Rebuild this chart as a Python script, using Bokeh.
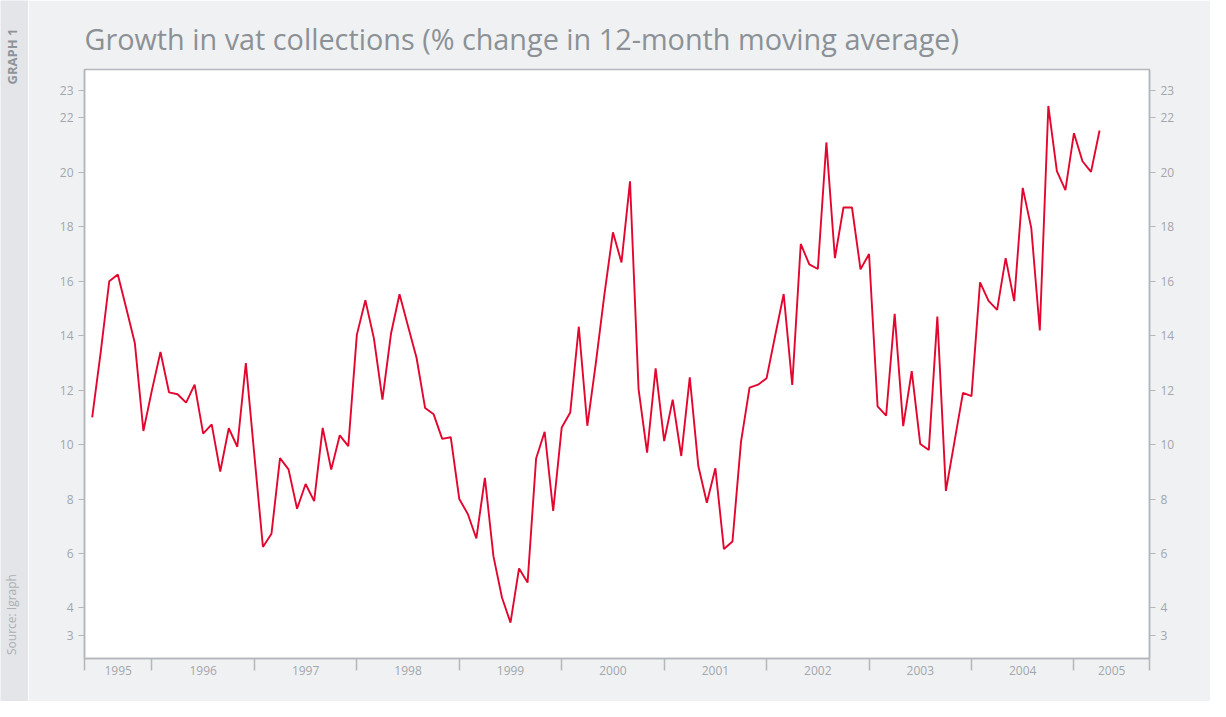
import math
from bokeh.plotting import figure
from bokeh.models import Range1d, LinearAxis, FixedTicker, CustomJSTickFormatter, Label
from bokeh.layouts import row
from bokeh.embed import file_html
from bokeh.resources import INLINE

# ---------------- data ----------------
title_text = "Growth in vat collections (% change in 12-month moving average)"
start_year = 1995
start_month = 6          # first observation: June 1995 (monthly series)
growth = [
    11.0, 13.4, 16.0, 16.25, 15.0, 13.72, 10.5,                       # 1995 Jun-Dec
    12.0, 13.4, 11.92, 11.85, 11.54, 12.2, 10.4, 10.74, 9.01, 10.6, 9.92, 12.99,   # 1996
    9.6, 6.24, 6.72, 9.5, 9.09, 7.64, 8.55, 7.92, 10.61, 9.08, 10.34, 9.94,        # 1997
    14.03, 15.3, 13.9, 11.65, 14.07, 15.52, 14.35, 13.18, 11.34, 11.11, 10.21, 10.27,  # 1998
    8.0, 7.45, 6.55, 8.78, 5.9, 4.38, 3.46, 5.45, 4.93, 9.49, 10.47, 7.56,          # 1999
    10.63, 11.18, 14.33, 10.69, 13.0, 15.52, 17.8, 16.69, 19.67, 12.04, 9.7, 12.8,  # 2000
    10.13, 11.65, 9.58, 12.47, 9.21, 7.86, 9.13, 6.16, 6.44, 10.1, 12.09, 12.2,     # 2001
    12.44, 14.0, 15.53, 12.19, 17.37, 16.62, 16.45, 21.1, 16.85, 18.71, 18.71, 16.44,  # 2002
    17.0, 11.4, 11.06, 14.8, 10.68, 12.7, 10.02, 9.8, 14.7, 8.3, 10.1, 11.9,        # 2003
    11.78, 15.96, 15.28, 14.95, 16.85, 15.27, 19.43, 17.96, 14.19, 22.44, 20.05, 19.35,  # 2004
    21.44, 20.41, 20.02, 21.54,                                                      # 2005 Jan-Apr
]
years = list(range(1995, 2006))
y_ticks = [3, 4, 6, 8, 10, 12, 14, 16, 18, 20, 22, 23]

# x positions (decimal years, one per month)
xs = [start_year + (start_month - 1 + i) / 12 for i in range(len(growth))]

# ---------------- style ----------------
BG = "#f0f1f3"
STRIP = "#e3e5e8"
AXIS = "#b3b7bb"
TICKLBL = "#a2a7ac"
TITLE = "#8b9196"
RED = "#e3062f"
FONT = "Open Sans"

x_start = 1995 + 4.1 / 12
x_end = 2005 + 8.85 / 12

W_STRIP = 28
W_MAIN = 1182
H = 701
B_TOP = 69
B_BOTTOM = 43

# ---------------- left strip ----------------
s = figure(width=W_STRIP, height=H, x_range=Range1d(0, W_STRIP), y_range=Range1d(H, 0),
           output_backend="svg", toolbar_location=None, min_border=0, title=None,
           x_axis_location=None, y_axis_location=None)
s.frame_align = False
s.grid.visible = False
s.outline_line_color = None
s.background_fill_color = STRIP
s.border_fill_color = STRIP
s.add_layout(Label(x=11.5, y=56, text="GRAPH 1", angle=math.pi / 2, text_align="center",
                   text_baseline="middle", text_font=FONT, text_font_style="bold",
                   text_font_size="13px", text_color="#8e949a"))
s.add_layout(Label(x=11, y=614, text="Source: Igraph", angle=math.pi / 2, text_align="center",
                   text_baseline="middle", text_font=FONT, text_font_size="12px",
                   text_color="#aab0b5"))

# ---------------- main chart ----------------
p = figure(width=W_MAIN, height=H, x_range=Range1d(x_start, x_end),
           y_range=Range1d(2.14, 23.78), output_backend="svg", toolbar_location=None,
           min_border_left=56, min_border_right=61, min_border_top=B_TOP,
           min_border_bottom=B_BOTTOM,
           x_axis_location="below", y_axis_location="left")
p.frame_align = False
p.background_fill_color = "white"
p.border_fill_color = BG
p.outline_line_color = AXIS
p.outline_line_width = 1.5
p.grid.visible = False

p.title.text = title_text
p.title.align = "left"
p.title.text_font = FONT
p.title.text_font_style = "normal"
p.title.text_font_size = "28.8px"
p.title.text_color = TITLE
p.title.standoff = 24
p.title.offset = 0

# x axis: labels mid-year, long ticks at year boundaries
bounds = [x_start] + [float(y) for y in years[1:]] + [x_end]
mids = []
for y in years:
    a = max(float(y), x_start)
    b = min(float(y + 1), x_end)
    mids.append((a + b) / 2)
xa = p.xaxis[0]
xa.ticker = FixedTicker(ticks=mids, minor_ticks=bounds)
xa.formatter = CustomJSTickFormatter(code="return String(Math.floor(tick));")
xa.major_tick_out = 0
xa.major_tick_in = 0
xa.minor_tick_out = 12
xa.minor_tick_in = 0
xa.minor_tick_line_color = AXIS
xa.minor_tick_line_width = 1.5
xa.axis_line_color = AXIS
xa.axis_line_width = 1.5
xa.major_label_standoff = -5
xa.major_label_text_font = FONT
xa.major_label_text_font_size = "12px"
xa.major_label_text_color = TICKLBL


def style_y(ax):
    ax.ticker = FixedTicker(ticks=y_ticks)
    ax.major_tick_out = 6
    ax.major_tick_in = 0
    ax.minor_tick_out = 0
    ax.minor_tick_in = 0
    ax.major_tick_line_color = AXIS
    ax.major_tick_line_width = 1
    ax.axis_line_color = AXIS
    ax.axis_line_width = 1.5
    ax.major_label_standoff = 5
    ax.major_label_text_font = FONT
    ax.major_label_text_font_size = "12px"
    ax.major_label_text_color = TICKLBL


style_y(p.yaxis[0])
right_axis = LinearAxis()
style_y(right_axis)
p.add_layout(right_axis, "right")

p.line(xs, growth, line_color=RED, line_width=1.9)

layout = row(s, p, spacing=0)
open("out.html", "w").write(file_html(layout, INLINE))
